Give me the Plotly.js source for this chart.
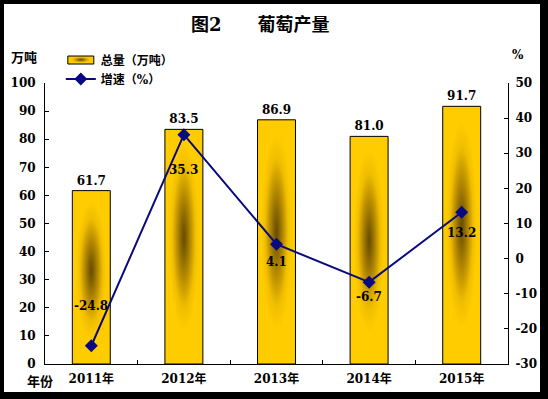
<!DOCTYPE html>
<html>
<head>
<meta charset="utf-8">
<script src="https://cdn.plot.ly/plotly-3.0.1.min.js"></script>
<style>
  html, body { margin: 0; padding: 0; background: #000; width: 548px; height: 399px; overflow: hidden; }
  #chart { position: absolute; left: 4px; top: 4px; width: 536px; height: 388px; background: #fff; }
</style>
</head>
<body>
<div id="chart"></div>
<script>
const years = ["2011年", "2012年", "2013年", "2014年", "2015年"];
const totalOutput = [61.7, 83.5, 86.9, 81.0, 91.7];
const growthRate = [-24.8, 35.3, 4.1, -6.7, 13.2];
const seriesNames = ["总量（万吨）", "增速（%）"];
const titleText = "图2　　葡萄产量";
const rightTickValues = [-30, -20, -10, 0, 10, 20, 30, 40, 50];
const rightTickLabels = ["-30", "-20", "-10", "0", "10", "20", "30", "40", "50"];

// label pixel offsets (style only)
const growthLabelShift = [40, -35, -18, -15, -21];

const FONT = '"DejaVu Serif", "Noto Sans CJK SC", serif';
const boldFont = (size) => ({family: FONT, size: size, color: '#000', weight: 'bold'});

const traces = [
  {
    type: 'bar', x: years, y: totalOutput, name: seriesNames[0],
    marker: {color: '#FFCC00', line: {color: '#000', width: 1}},
    texttemplate: '%{y:.1f}', textposition: 'outside', cliponaxis: false,
    textfont: boldFont(12), hoverinfo: 'skip'
  },
  {
    type: 'scatter', mode: 'lines+markers', x: years, y: growthRate, yaxis: 'y2',
    name: seriesNames[1],
    line: {color: '#0A0A80', width: 2},
    marker: {symbol: 'diamond', size: 10, color: '#0A0A80'},
    hoverinfo: 'skip'
  }
];

const annotations = growthRate.map((v, i) => ({
  x: years[i], y: v, xref: 'x', yref: 'y2', text: v.toFixed(1),
  showarrow: false, yshift: growthLabelShift[i], font: boldFont(12)
}));
annotations.push(
  {xref: 'paper', yref: 'paper', x: -0.0464, y: 1.0925, xanchor: 'center', yanchor: 'middle',
   text: '万吨', showarrow: false, font: boldFont(13)},
  {xref: 'paper', yref: 'paper', x: 1.0216, y: 1.0996, xanchor: 'center', yanchor: 'middle',
   text: '%', showarrow: false, font: boldFont(12)},
  {xref: 'paper', yref: 'paper', x: -0.0108, y: -0.0605, xanchor: 'center', yanchor: 'middle',
   text: '年份', showarrow: false, font: boldFont(13)}
);

const layout = {
  width: 536, height: 388,
  paper_bgcolor: '#fff', plot_bgcolor: '#fff',
  margin: {l: 41, r: 32, t: 79, b: 28, autoexpand: false},
  font: boldFont(12),
  title: {text: titleText, x: 0.478, xref: 'container', xanchor: 'center',
          y: 0.946, yref: 'container', yanchor: 'middle', font: boldFont(18), automargin: false},
  bargap: 0.59,
  showlegend: true,
  legend: {xref: 'container', yref: 'container', x: 0.106, y: 0.893, xanchor: 'left', yanchor: 'top',
           bgcolor: 'rgba(0,0,0,0)', font: boldFont(12), traceorder: 'normal'},
  xaxis: {type: 'category', showline: true, linecolor: '#000', linewidth: 1, automargin: false,
          ticks: 'inside', ticklen: 4, tickcolor: '#000', tickson: 'boundaries',
          showgrid: false, tickfont: boldFont(12), ticklabelstandoff: 4, fixedrange: true},
  yaxis: {range: [0, 100], dtick: 10, showline: true, linecolor: '#000', linewidth: 1, automargin: false,
          ticks: 'inside', ticklen: 4, tickcolor: '#000', showgrid: false, zeroline: false,
          tickfont: boldFont(12), ticklabelstandoff: 6},
  yaxis2: {range: [-30, 50], tickmode: 'array', tickvals: rightTickValues, ticktext: rightTickLabels,
           overlaying: 'y', side: 'right', showline: true, automargin: false,
           linecolor: '#000', linewidth: 1, ticks: 'inside', ticklen: 4, tickcolor: '#000',
           showgrid: false, zeroline: false, tickfont: boldFont(12), ticklabelstandoff: 4},
  annotations: annotations
};

Plotly.newPlot('chart', traces, layout, {displayModeBar: false, staticPlot: true}).then(function (gd) {
  const svg = gd.querySelector('svg.main-svg');
  const ns = 'http://www.w3.org/2000/svg';
  let defs = svg.querySelector('defs');
  if (!defs) { defs = document.createElementNS(ns, 'defs'); svg.insertBefore(defs, svg.firstChild); }
  const grad = document.createElementNS(ns, 'radialGradient');
  grad.setAttribute('id', 'barGrad');
  grad.setAttribute('cx', '0.5'); grad.setAttribute('cy', '0.46');
  grad.setAttribute('r', '0.5');
  [['0', '#6A4E00'], ['0.1', '#7A5B00'], ['0.35', '#B68A00'], ['0.6', '#F0BE00'], ['0.8', '#FFCC00'], ['1', '#FFCC00']].forEach(function (s) {
    const st = document.createElementNS(ns, 'stop');
    st.setAttribute('offset', s[0]); st.setAttribute('stop-color', s[1]);
    grad.appendChild(st);
  });
  defs.appendChild(grad);
  gd.querySelectorAll('.barlayer .point path').forEach(function (p) { p.style.fill = 'url(#barGrad)'; });
  const legPts = gd.querySelectorAll('.legend .traces');
  if (legPts.length) {
    const p = legPts[0].querySelector('.legendpoints path');
    if (p) { p.setAttribute('d', 'M13,4H-13V-4H13Z'); p.style.fill = 'url(#barGrad)'; p.style.strokeWidth = '1px'; }
  }
});
</script>
</body>
</html>
